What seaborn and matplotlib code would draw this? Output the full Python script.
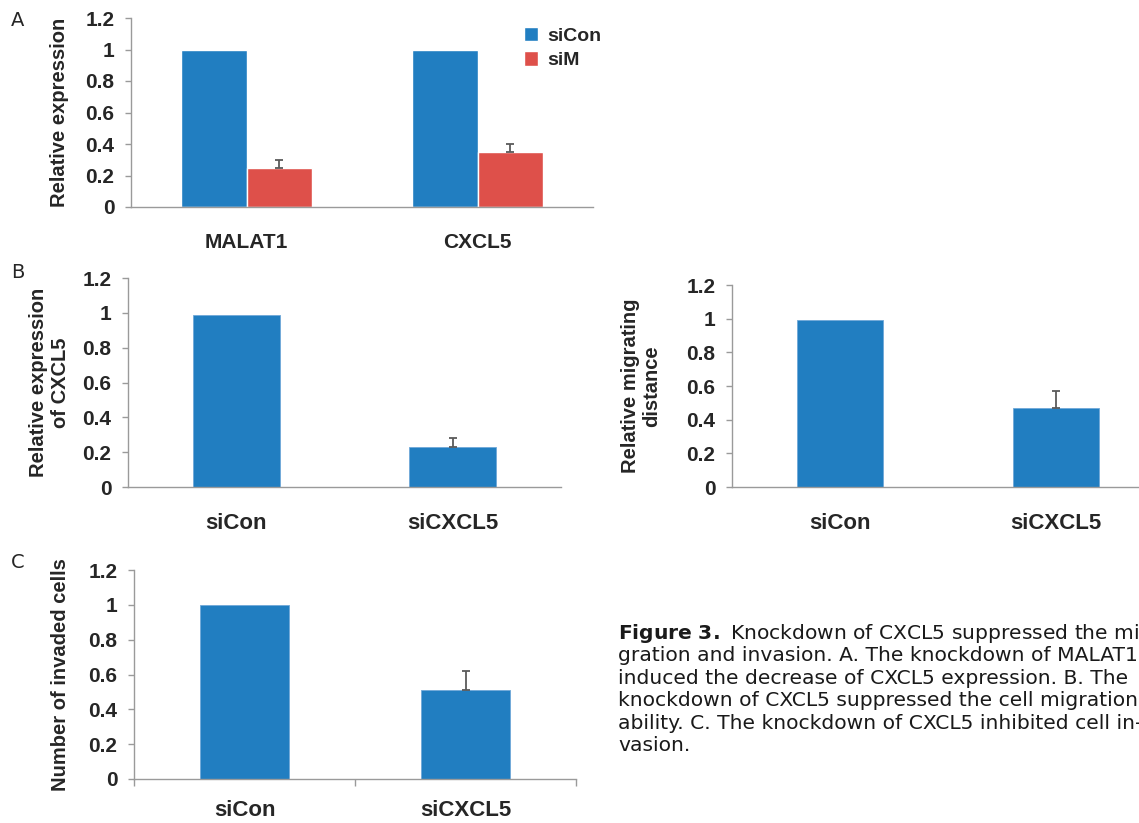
import pandas as pd
import matplotlib
matplotlib.use("Agg")
import matplotlib.pyplot as plt
import seaborn as sns

# Panel A: relative expression after siM
genes = ["MALAT1", "CXCL5"]
groups_a = ["siCon", "siM"]
expr_sicon = [1.0, 1.0]
expr_sim = [0.25, 0.35]
err_sim = [0.05, 0.05]

# Panels B and C: siCon vs siCXCL5
conditions = ["siCon", "siCXCL5"]
cxcl5_expr = [0.99, 0.23]
cxcl5_err = [0.0, 0.05]
migration = [0.99, 0.47]
migration_err = [0.0, 0.10]
invaded = [1.0, 0.51]
invaded_err = [0.0, 0.11]

yticks = [0, 0.2, 0.4, 0.6, 0.8, 1.0, 1.2]
ytick_labels = ["0", "0.2", "0.4", "0.6", "0.8", "1", "1.2"]

caption_lines = [
    r"$\bf{Figure\ 3.}$ Knockdown of CXCL5 suppressed the mi-",
    "gration and invasion. A. The knockdown of MALAT1",
    "induced the decrease of CXCL5 expression. B. The",
    "knockdown of CXCL5 suppressed the cell migration",
    "ability. C. The knockdown of CXCL5 inhibited cell in-",
    "vasion.",
]

BLUE = "#217ec1"
RED = "#de504a"
AXIS_GRAY = "#9a9a9a"
ERR_GRAY = "#5a5a5a"

sns.set_style("white")
plt.rcParams["font.family"] = ["Liberation Sans", "DejaVu Sans"]

W, H = 1139, 823
fig = plt.figure(figsize=(W / 100, H / 100), dpi=100)


def px_axes(left, right, top, bottom):
    return fig.add_axes([left / W, 1 - bottom / H, (right - left) / W, (bottom - top) / H])


def style_axes(ax, label, label_x, xfont=16, xpad=19, minor_xticks=False):
    ax.set_ylim(0, 1.2)
    ax.set_xlim(-0.5, 1.5)
    ax.set_yticks(yticks)
    ax.set_yticklabels(ytick_labels, fontsize=15, fontweight="bold")
    ax.set_xlabel("")
    ax.set_ylabel(label, fontsize=14.5, fontweight="bold", linespacing=1.15)
    ax.yaxis.set_label_coords(label_x, 0.5)
    for side in ["top", "right"]:
        ax.spines[side].set_visible(False)
    for side in ["left", "bottom"]:
        ax.spines[side].set_color(AXIS_GRAY)
        ax.spines[side].set_linewidth(1.0)
    ax.tick_params(axis="y", direction="out", length=4, width=1, color=AXIS_GRAY, pad=8, left=True)
    ax.tick_params(axis="x", length=0, pad=xpad)
    for t in ax.get_xticklabels():
        t.set_fontweight("bold")
        t.set_fontsize(xfont)
    if minor_xticks:
        ax.set_xticks([-0.5, 0.5, 1.5], minor=True)
        ax.tick_params(axis="x", which="minor", direction="out", length=5, width=1,
                       color=AXIS_GRAY, bottom=True)


def add_errors(ax, container, values, errs):
    pts = [(b.get_x() + b.get_width() / 2, v, e) for b, v, e in zip(container, values, errs) if e > 0]
    xs = [p[0] for p in pts]
    ys = [p[1] for p in pts]
    es = [p[2] for p in pts]
    ax.errorbar(xs, ys, yerr=[[0] * len(es), es], fmt="none", ecolor=ERR_GRAY,
                elinewidth=1.3, capsize=3, capthick=1.3, zorder=3)


def single_panel(ax, values, errs, label, label_x, xpad=19, minor_xticks=False):
    df = pd.DataFrame({"condition": conditions, "value": values})
    sns.barplot(data=df, x="condition", y="value", color=BLUE, width=0.4, errorbar=None,
                edgecolor="#6fa8d8", linewidth=0.6, saturation=1, ax=ax)
    add_errors(ax, ax.containers[0], values, errs)
    style_axes(ax, label, label_x, 16, xpad, minor_xticks)


# ---- Panel A ----
ax_a = px_axes(131, 593, 18, 207)
df_a = pd.DataFrame({
    "gene": genes * 2,
    "group": [groups_a[0]] * len(genes) + [groups_a[1]] * len(genes),
    "value": expr_sicon + expr_sim,
})
sns.barplot(data=df_a, x="gene", y="value", hue="group", palette=[BLUE, RED], width=0.57,
            errorbar=None, saturation=1, ax=ax_a)
add_errors(ax_a, ax_a.containers[1], expr_sim, err_sim)
style_axes(ax_a, "Relative expression", -0.135, 15)
handles, labels = ax_a.get_legend_handles_labels()
ax_a.legend(handles, labels, loc="upper left", bbox_to_anchor=(514 / W, 1 - 17 / H),
            bbox_transform=fig.transFigure, frameon=False, borderpad=0,
            handlelength=0.75, handleheight=0.75, handletextpad=0.45, labelspacing=0.35,
            prop=dict(weight="bold", size=14))

# ---- Panel B ----
ax_b1 = px_axes(128, 561, 278, 487)
single_panel(ax_b1, cxcl5_expr, cxcl5_err, "Relative expression\nof CXCL5", -0.135)

ax_b2 = px_axes(732, 1164, 285, 487)
single_panel(ax_b2, migration, migration_err, "Relative migrating\ndistance", -0.164)

# ---- Panel C ----
ax_c = px_axes(134, 576, 570, 779)
single_panel(ax_c, invaded, invaded_err, "Number of invaded cells", -0.145,
             xpad=15, minor_xticks=True)

# panel letters
for letter, y in [("A", 20), ("B", 272), ("C", 562)]:
    fig.text(18 / W, 1 - y / H, letter, fontsize=14, ha="center", va="center",
             family="DejaVu Sans")

# caption
for i, line in enumerate(caption_lines):
    fig.text(618 / W, 1 - (639 + 22.4 * i) / H, line, fontsize=14.6, ha="left",
             va="baseline", family="DejaVu Sans", color="#1a1a1a")

fig.savefig("out.png", dpi=100)
